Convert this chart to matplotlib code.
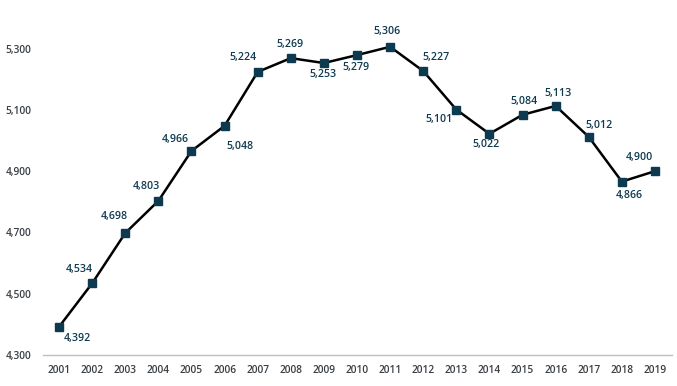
import matplotlib.pyplot as plt

years = [str(y) for y in range(2001, 2020)]
values = [4392, 4534, 4698, 4803, 4966, 5048, 5224, 5269, 5253, 5279,
          5306, 5227, 5101, 5022, 5084, 5113, 5012, 4866, 4900]
yticks = [4300, 4500, 4700, 4900, 5100, 5300]

# label offsets (pixels) relative to each point
offsets = [(18, -12), (-13, 14), (-11, 17), (-12, 14), (-16, 11), (15, -21),
           (-15, 14), (-1, 14), (-1, -11), (-1, -12), (-3, 15), (13, 14),
           (-17, -10), (-3, -11), (1, 13), (2, 12), (10, 11), (7, -14), (-16, 14)]

navy = "#0e3a50"
plt.rcParams["font.family"] = ["Open Sans", "DejaVu Sans"]

fig = plt.figure(figsize=(6.77, 3.86), dpi=100)
ax = fig.add_axes([42.5 / 677, 31 / 386, 629 / 677, 337 / 386])

x = list(range(len(years)))
ax.plot(x, values, color="black", lw=1.8, zorder=2)
ax.plot(x, values, ls="none", marker="s", ms=5.5, color=navy, zorder=3)

for xi, v, (dx, dy) in zip(x, values, offsets):
    ax.annotate(f"{v:,}", (xi, v), xytext=(dx, dy), textcoords="offset pixels",
                ha="center", va="center", fontsize=7.7, fontweight="semibold",
                color=navy)

ax.set_xlim(-0.5, len(years) - 0.5)
ax.set_ylim(4300, 5400)
ax.set_xticks(x)
ax.set_xticklabels(years)
ax.set_yticks(yticks)
ax.set_yticklabels([f"{t:,}" for t in yticks])
ax.tick_params(axis="both", length=0, labelsize=7.3, colors="#3a3f44")
for lab in ax.get_xticklabels() + ax.get_yticklabels():
    lab.set_fontweight("semibold")
ax.tick_params(axis="x", pad=7)
ax.tick_params(axis="y", pad=8)
for side in ["top", "right", "left"]:
    ax.spines[side].set_visible(False)
ax.spines["bottom"].set_color("#bfbfbf")
ax.spines["bottom"].set_linewidth(1)

fig.savefig("out.png", dpi=100)
